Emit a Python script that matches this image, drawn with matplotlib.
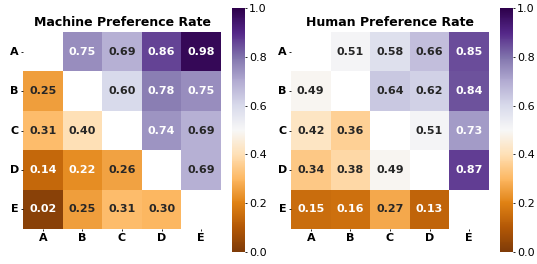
import numpy as np
import matplotlib
matplotlib.use("Agg")
import matplotlib.pyplot as plt
import seaborn as sns

labels = ["A", "B", "C", "D", "E"]

machine_rate = np.array([
    [np.nan, 0.75, 0.69, 0.86, 0.98],
    [0.25, np.nan, 0.60, 0.78, 0.75],
    [0.31, 0.40, np.nan, 0.74, 0.69],
    [0.14, 0.22, 0.26, np.nan, 0.69],
    [0.02, 0.25, 0.31, 0.30, np.nan],
])

human_rate = np.array([
    [np.nan, 0.51, 0.58, 0.66, 0.85],
    [0.49, np.nan, 0.64, 0.62, 0.84],
    [0.42, 0.36, np.nan, 0.51, 0.73],
    [0.34, 0.38, 0.49, np.nan, 0.87],
    [0.15, 0.16, 0.27, 0.13, np.nan],
])

titles = ["Machine Preference Rate", "Human Preference Rate"]

W, H = 537, 264
fig = plt.figure(figsize=(W / 100, H / 100), dpi=100)

# desplazamiento horizontal de cada panel en pixeles
offsets = [0, 268]
for data, title, off in zip([machine_rate, human_rate], titles, offsets):
    ax = fig.add_axes([(off + 23) / W, (H - 229) / H, 198 / W, 197 / H])
    cax = fig.add_axes([(off + 232) / W, (H - 252) / H, 13 / W, 244 / H])
    sns.heatmap(data, ax=ax, cbar_ax=cax, cmap="PuOr", vmin=0, vmax=1,
                annot=True, fmt=".2f",
                annot_kws={"fontsize": 8, "fontweight": "bold"},
                xticklabels=labels, yticklabels=labels)
    ax.set_title(title, fontsize=9, fontweight="bold", pad=4)
    ax.tick_params(axis="both", length=1.5, width=0.6, pad=1.5, labelsize=8)
    for t in ax.get_xticklabels() + ax.get_yticklabels():
        t.set_fontweight("bold")
    plt.setp(ax.get_yticklabels(), rotation=0)
    plt.setp(ax.get_xticklabels(), rotation=0)
    cax.tick_params(labelsize=8, length=1.5, width=0.6, pad=1.5)
    cax.set_yticks([0, 0.2, 0.4, 0.6, 0.8, 1.0])

fig.savefig("out.png", dpi=100)
